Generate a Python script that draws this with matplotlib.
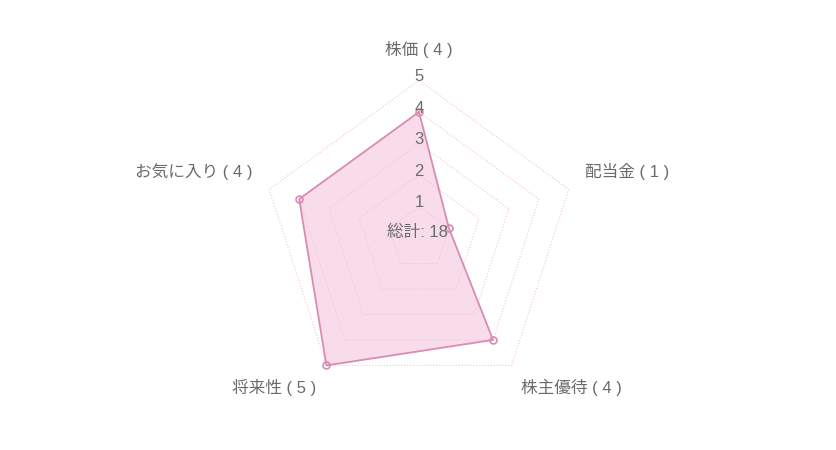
import numpy as np
import matplotlib
matplotlib.use("Agg")
import matplotlib.pyplot as plt

plt.rcParams["font.family"] = ["Liberation Sans", "Noto Sans CJK JP", "DejaVu Sans"]

# ── data ────────────────────────────────────────────
CATEGORIES = ["株価", "配当金", "株主優待", "将来性", "お気に入り"]
VALUES = [4, 1, 4, 5, 4]
TICKS = [1, 2, 3, 4, 5]

# ── style ───────────────────────────────────────────
TEXT_COLOR = "#6b6b6b"
RING_COLOR = "#f3c3da"
LINE_COLOR = "#d98cb3"
FILL_COLOR = "#f5c0da"

# label anchors (x, y, ha) in radar units
LABEL_POS = [
    (0.0, 5.97, "center"),
    (5.27, 2.10, "left"),
    (3.24, -4.73, "left"),
    (-3.27, -4.73, "right"),
    (-5.30, 2.10, "right"),
]

W, H = 836, 450
CX, CY, UNIT = 419, 238, 31.5

fig = plt.figure(figsize=(W / 100, H / 100), dpi=100)
ax = fig.add_axes([0, 0, 1, 1])
ax.set_xlim(-CX / UNIT, (W - CX) / UNIT)
ax.set_ylim(-(H - CY) / UNIT, CY / UNIT)
ax.axis("off")

n = len(CATEGORIES)
ang = np.arange(n) * 2 * np.pi / n
sx, sy = np.sin(ang), np.cos(ang)

# pentagon grid rings
for t in TICKS:
    ax.plot(np.append(t * sx, t * sx[0]), np.append(t * sy, t * sy[0]),
            color=RING_COLOR, lw=0.8, ls=(0, (1, 1.6)), zorder=1)

# data polygon
vals = np.array(VALUES, dtype=float)
px, py = vals * sx, vals * sy
ax.fill(px, py, color=FILL_COLOR, alpha=0.55, lw=0, zorder=2)
ax.plot(np.append(px, px[0]), np.append(py, py[0]), color=LINE_COLOR, lw=1.3, zorder=3)
ax.plot(px, py, "o", ms=5, mfc="none", mec=LINE_COLOR, mew=1.2, zorder=4)

# tick labels
for t in TICKS:
    ax.text(0, t + 0.12, str(t), ha="center", va="center",
            fontsize=12, color=TEXT_COLOR, zorder=5)

# category labels
for cat, v, (lx, ly, ha) in zip(CATEGORIES, VALUES, LABEL_POS):
    ax.text(lx, ly, f"{cat} ( {v} )", ha=ha, va="center",
            fontsize=12, color=TEXT_COLOR)

ax.text(-0.05, 0.19, f"総計: {sum(VALUES)}", ha="center", va="center",
        fontsize=12, color=TEXT_COLOR, zorder=5)

fig.savefig("out.png", dpi=100)
